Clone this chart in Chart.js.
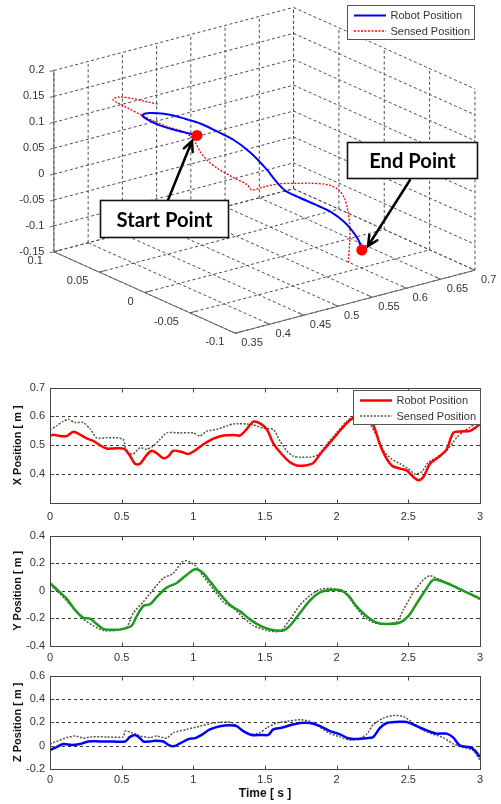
<!DOCTYPE html>
<html>
<head>
<meta charset="utf-8">
<title>Robot trajectory</title>
<script src="https://cdn.jsdelivr.net/npm/chart.js@4.4.1/dist/chart.umd.min.js"></script>
<style>
  html, body { margin: 0; padding: 0; background: #fff; }
  body { position: relative; width: 501px; height: 804px; overflow: hidden; }
  canvas { position: absolute; left: 0; }
</style>
</head>
<body>
<canvas id="traj3d" width="501" height="362" style="top:0"></canvas>
<canvas id="xPlot" width="501" height="148" style="top:376px"></canvas>
<canvas id="yPlot" width="501" height="140" style="top:524px"></canvas>
<canvas id="zPlot" width="501" height="140" style="top:664px"></canvas>
<script>
// ---- 3D path (m) ----
const robotX = [0.457, 0.449, 0.438, 0.424, 0.414, 0.409, 0.412, 0.418, 0.431, 0.446, 0.460, 0.475, 0.489, 0.503, 0.517, 0.527, 0.534, 0.546, 0.559, 0.574, 0.586, 0.594, 0.598, 0.601];
const robotY = [0.023, 0.027, 0.033, 0.040, 0.045, 0.047, 0.046, 0.043, 0.035, 0.028, 0.021, 0.014, 0.007, -0.001, -0.008, -0.013, -0.017, -0.022, -0.030, -0.037, -0.042, -0.047, -0.049, -0.050];
const robotZ = [0.098, 0.102, 0.107, 0.116, 0.126, 0.134, 0.138, 0.139, 0.138, 0.130, 0.121, 0.106, 0.091, 0.068, 0.037, 0.010, -0.005, -0.017, -0.029, -0.044, -0.063, -0.084, -0.098, -0.116];

const sensedX = [0.423, 0.412, 0.400, 0.389, 0.383, 0.387, 0.398, 0.409, 0.420, 0.431, 0.444, 0.451, 0.456, 0.460, 0.466, 0.475, 0.489, 0.501, 0.505, 0.515, 0.528, 0.543, 0.557, 0.572, 0.580, 0.586, 0.588, 0.590, 0.590, 0.589];
const sensedY = [0.041, 0.046, 0.051, 0.057, 0.060, 0.059, 0.053, 0.047, 0.041, 0.035, 0.030, 0.025, 0.023, 0.021, 0.018, 0.014, 0.007, 0.001, -0.001, -0.006, -0.014, -0.021, -0.028, -0.035, -0.040, -0.042, -0.044, -0.045, -0.045, -0.044];
const sensedZ = [0.156, 0.161, 0.167, 0.169, 0.164, 0.158, 0.146, 0.134, 0.123, 0.114, 0.105, 0.096, 0.081, 0.065, 0.050, 0.035, 0.018, 0.005, -0.005, 0.001, 0.009, 0.010, 0.011, 0.008, 0.000, -0.016, -0.037, -0.068, -0.099, -0.141];

const axisXTicks = [0.35, 0.4, 0.45, 0.5, 0.55, 0.6, 0.65, 0.7];
const axisYTicks = [0.1, 0.05, 0, -0.05, -0.1];
const axisZTicks = [0.2, 0.15, 0.1, 0.05, 0, -0.05, -0.1, -0.15];

// ---- position against time ----
const timeTicks = [0, 0.5, 1, 1.5, 2, 2.5, 3];
const xPosTicks = [0.4, 0.5, 0.6, 0.7];
const yPosTicks = [-0.4, -0.2, 0, 0.2, 0.4];
const zPosTicks = [-0.2, 0, 0.2, 0.4, 0.6];

const tXRobot = [0, 0.023, 0.07, 0.116, 0.163, 0.209, 0.256, 0.302, 0.349, 0.395, 0.442, 0.488, 0.523, 0.558, 0.593, 0.628, 0.674, 0.709, 0.744, 0.791, 0.826, 0.86, 0.919, 0.965, 1.023, 1.081, 1.14, 1.209, 1.279, 1.326, 1.372, 1.419, 1.465, 1.512, 1.558, 1.616, 1.674, 1.721, 1.779, 1.837, 1.884, 1.942, 2.0, 2.07, 2.128, 2.17, 2.22, 2.267, 2.302, 2.337, 2.384, 2.442, 2.488, 2.535, 2.57, 2.605, 2.651, 2.709, 2.767, 2.814, 2.872, 2.93, 3.0];
const xRobot = [0.532, 0.537, 0.532, 0.532, 0.547, 0.537, 0.524, 0.515, 0.5, 0.489, 0.489, 0.49, 0.486, 0.464, 0.436, 0.436, 0.466, 0.481, 0.473, 0.455, 0.462, 0.481, 0.477, 0.47, 0.486, 0.507, 0.523, 0.534, 0.536, 0.534, 0.556, 0.582, 0.576, 0.556, 0.507, 0.47, 0.441, 0.43, 0.43, 0.439, 0.469, 0.503, 0.537, 0.577, 0.6, 0.612, 0.605, 0.556, 0.503, 0.464, 0.43, 0.419, 0.413, 0.39, 0.379, 0.39, 0.436, 0.458, 0.486, 0.543, 0.548, 0.55, 0.573];
const tXSensed = [0, 0.047, 0.093, 0.128, 0.174, 0.233, 0.279, 0.326, 0.395, 0.465, 0.512, 0.535, 0.581, 0.628, 0.674, 0.721, 0.767, 0.814, 0.907, 1.0, 1.047, 1.093, 1.163, 1.233, 1.279, 1.372, 1.419, 1.488, 1.558, 1.605, 1.651, 1.698, 1.744, 1.814, 1.872, 1.93, 2.0, 2.07, 2.116, 2.16, 2.2, 2.233, 2.279, 2.326, 2.384, 2.442, 2.5, 2.547, 2.593, 2.64, 2.698, 2.767, 2.837, 2.884, 2.93, 3.0];
const xSensed = [0.553, 0.568, 0.583, 0.59, 0.579, 0.579, 0.557, 0.526, 0.526, 0.526, 0.52, 0.475, 0.47, 0.492, 0.486, 0.498, 0.52, 0.543, 0.543, 0.543, 0.532, 0.549, 0.555, 0.567, 0.574, 0.574, 0.571, 0.559, 0.555, 0.515, 0.481, 0.462, 0.459, 0.459, 0.467, 0.503, 0.543, 0.583, 0.6, 0.615, 0.605, 0.575, 0.532, 0.481, 0.453, 0.436, 0.419, 0.4, 0.408, 0.441, 0.458, 0.481, 0.526, 0.548, 0.562, 0.587];

const tYRobot = [0, 0.047, 0.116, 0.174, 0.233, 0.279, 0.326, 0.372, 0.442, 0.512, 0.57, 0.605, 0.651, 0.698, 0.744, 0.814, 0.884, 0.953, 1.012, 1.058, 1.116, 1.186, 1.256, 1.326, 1.395, 1.465, 1.535, 1.628, 1.674, 1.744, 1.814, 1.884, 1.953, 2.023, 2.081, 2.14, 2.209, 2.279, 2.349, 2.442, 2.5, 2.558, 2.616, 2.674, 2.733, 2.814, 2.907, 3.0];
const yRobot = [0.057, 0.011, -0.057, -0.138, -0.195, -0.202, -0.241, -0.276, -0.283, -0.276, -0.253, -0.184, -0.11, -0.097, -0.046, 0.023, 0.057, 0.115, 0.156, 0.138, 0.069, -0.023, -0.103, -0.149, -0.207, -0.253, -0.28, -0.287, -0.253, -0.161, -0.069, -0.011, 0.005, 0.005, -0.034, -0.115, -0.184, -0.23, -0.241, -0.23, -0.184, -0.092, 0, 0.08, 0.069, 0.034, -0.011, -0.057];
const tYSensed = [0, 0.07, 0.163, 0.233, 0.302, 0.372, 0.465, 0.535, 0.581, 0.651, 0.721, 0.791, 0.86, 0.919, 0.953, 1.012, 1.07, 1.14, 1.209, 1.279, 1.349, 1.419, 1.512, 1.605, 1.674, 1.744, 1.814, 1.884, 1.953, 2.047, 2.116, 2.186, 2.256, 2.326, 2.419, 2.465, 2.535, 2.605, 2.651, 2.721, 2.814, 2.907, 3.0];
const ySensed = [0.046, -0.023, -0.126, -0.207, -0.253, -0.287, -0.287, -0.264, -0.161, -0.08, 0.011, 0.092, 0.126, 0.207, 0.218, 0.184, 0.103, 0.011, -0.08, -0.126, -0.195, -0.253, -0.287, -0.294, -0.207, -0.103, -0.034, 0.011, 0.018, 0, -0.092, -0.184, -0.23, -0.241, -0.225, -0.138, -0.011, 0.08, 0.11, 0.08, 0.039, -0.011, -0.064];

const tZRobot = [0, 0.035, 0.093, 0.151, 0.209, 0.267, 0.349, 0.442, 0.523, 0.558, 0.593, 0.628, 0.651, 0.698, 0.733, 0.791, 0.826, 0.86, 0.907, 0.965, 1.012, 1.058, 1.116, 1.186, 1.256, 1.302, 1.349, 1.407, 1.477, 1.523, 1.558, 1.616, 1.674, 1.744, 1.814, 1.884, 1.953, 2.023, 2.081, 2.151, 2.209, 2.256, 2.302, 2.349, 2.419, 2.488, 2.558, 2.628, 2.698, 2.767, 2.814, 2.86, 2.93, 2.965, 3.0];
const zRobot = [-0.036, -0.019, 0.014, 0.006, 0.014, 0.036, 0.036, 0.036, 0.036, 0.075, 0.092, 0.064, 0.036, 0.036, 0.042, 0.036, 0.006, -0.006, 0.019, 0.056, 0.064, 0.092, 0.139, 0.167, 0.175, 0.167, 0.125, 0.092, 0.092, 0.092, 0.139, 0.153, 0.175, 0.194, 0.194, 0.167, 0.125, 0.097, 0.064, 0.056, 0.064, 0.075, 0.153, 0.194, 0.203, 0.203, 0.167, 0.131, 0.103, 0.103, 0.069, 0, -0.014, -0.042, -0.097];
const tZSensed = [0, 0.058, 0.116, 0.174, 0.233, 0.291, 0.395, 0.512, 0.523, 0.57, 0.628, 0.698, 0.744, 0.814, 0.86, 0.953, 1.047, 1.14, 1.233, 1.279, 1.326, 1.395, 1.465, 1.512, 1.581, 1.651, 1.744, 1.814, 1.884, 1.953, 2.023, 2.093, 2.163, 2.209, 2.256, 2.326, 2.395, 2.465, 2.535, 2.605, 2.674, 2.744, 2.814, 2.884, 2.953, 3.0];
const zSensed = [0.014, 0.042, 0.069, 0.083, 0.064, 0.075, 0.075, 0.075, 0.125, 0.111, 0.083, 0.069, 0.083, 0.064, 0.111, 0.139, 0.167, 0.194, 0.203, 0.194, 0.139, 0.097, 0.111, 0.153, 0.194, 0.208, 0.222, 0.208, 0.158, 0.103, 0.075, 0.047, 0.064, 0.097, 0.181, 0.236, 0.258, 0.25, 0.194, 0.131, 0.097, 0.069, 0.014, -0.014, -0.042, -0.125];

const FONT = '"Liberation Sans", Arial, sans-serif';
const TEXT = '#333';
const SENSED = '#55553f';

// box limits come from the tick lists
const xLo = Math.min(...axisXTicks), xHi = Math.max(...axisXTicks);
const yLo = Math.min(...axisYTicks), yHi = Math.max(...axisYTicks);
const zLo = Math.min(...axisZTicks), zHi = Math.max(...axisZTicks);

// fixed view: where the (xLo, yHi, zLo) corner sits and how long each axis is on screen
const view = { ox: 49.5, oy: 254, xAxis: [245, -65], yAxis: [185.5, 84], zAxis: 187 };

function project(x, y, z) {
    const u = (x - xLo) / (xHi - xLo);
    const v = (yHi - y) / (yHi - yLo);
    const w = (z - zLo) / (zHi - zLo);
    return {
        x: view.ox + view.xAxis[0] * u + view.yAxis[0] * v,
        y: view.oy + view.xAxis[1] * u + view.yAxis[1] * v - view.zAxis * w
    };
}

const path3d = (xs, ys, zs) => xs.map((x, i) => project(x, ys[i], zs[i]));
const last = robotX.length - 1;

function arrow(ctx, x1, y1, x2, y2) {
    const a = Math.atan2(y2 - y1, x2 - x1);
    ctx.beginPath();
    ctx.moveTo(x1, y1);
    ctx.lineTo(x2, y2);
    ctx.moveTo(x2 - 11 * Math.cos(a - 0.45), y2 - 11 * Math.sin(a - 0.45));
    ctx.lineTo(x2, y2);
    ctx.lineTo(x2 - 11 * Math.cos(a + 0.45), y2 - 11 * Math.sin(a + 0.45));
    ctx.stroke();
}

function legendBox(ctx, left, top, w, h, items) {
    ctx.save();
    ctx.fillStyle = '#fff';
    ctx.fillRect(left, top, w, h);
    ctx.strokeStyle = '#555';
    ctx.lineWidth = 1;
    ctx.strokeRect(left, top, w, h);
    ctx.font = '11px ' + FONT;
    ctx.textBaseline = 'middle';
    items.forEach((it, i) => {
        const y = top + 10 + i * 15.5;
        ctx.strokeStyle = it.color;
        ctx.lineWidth = it.width;
        ctx.setLineDash(it.dash || []);
        ctx.beginPath();
        ctx.moveTo(left + 6.5, y);
        ctx.lineTo(left + 38.5, y);
        ctx.stroke();
        ctx.setLineDash([]);
        ctx.fillStyle = TEXT;
        ctx.fillText(it.text, left + 43, y + 0.5);
    });
    ctx.restore();
}

const frame3d = {
    id: 'frame3d',
    beforeDatasetsDraw(chart) {
        const ctx = chart.ctx;
        const sx = chart.scales.x, sy = chart.scales.y;
        const P = (x, y, z) => {
            const p = project(x, y, z);
            return [sx.getPixelForValue(p.x), sy.getPixelForValue(p.y)];
        };
        const seg = (a, b) => { ctx.beginPath(); ctx.moveTo(a[0], a[1]); ctx.lineTo(b[0], b[1]); ctx.stroke(); };

        ctx.save();
        ctx.lineWidth = 1;
        ctx.strokeStyle = '#4d4d4d';
        ctx.setLineDash([3, 2.5]);
        // back wall (y = yHi)
        axisXTicks.forEach(x => seg(P(x, yHi, zLo), P(x, yHi, zHi)));
        axisZTicks.forEach(z => seg(P(xLo, yHi, z), P(xHi, yHi, z)));
        // side wall (x = xHi)
        axisYTicks.forEach(y => seg(P(xHi, y, zLo), P(xHi, y, zHi)));
        axisZTicks.forEach(z => seg(P(xHi, yHi, z), P(xHi, yLo, z)));
        // floor
        axisXTicks.forEach(x => seg(P(x, yHi, zLo), P(x, yLo, zLo)));
        axisYTicks.forEach(y => seg(P(xLo, y, zLo), P(xHi, y, zLo)));

        // solid axes and tick marks
        ctx.setLineDash([]);
        ctx.strokeStyle = '#666';
        seg(P(xLo, yHi, zLo), P(xLo, yHi, zHi));
        seg(P(xLo, yHi, zLo), P(xLo, yLo, zLo));
        seg(P(xLo, yLo, zLo), P(xHi, yLo, zLo));
        axisZTicks.forEach(z => seg(P(xLo, yHi, z), P(xLo - 0.006, yHi, z)));
        axisYTicks.forEach(y => seg(P(xLo, y, zLo), P(xLo + 0.01, y, zLo)));
        axisXTicks.forEach(x => seg(P(x, yLo, zLo), P(x, yLo + 0.006, zLo)));

        // tick labels
        ctx.fillStyle = TEXT;
        ctx.font = '11px ' + FONT;
        ctx.textBaseline = 'middle';
        ctx.textAlign = 'right';
        axisZTicks.forEach(z => { const p = P(xLo, yHi, z); ctx.fillText(String(z), p[0] - 9.5, p[1]); });
        axisYTicks.forEach(y => { const p = P(xLo, y, zLo); ctx.fillText(String(y), p[0] - 11, p[1] + 9); });
        ctx.textAlign = 'left';
        axisXTicks.forEach(x => { const p = P(x, yLo, zLo); ctx.fillText(String(x), p[0] + 6, p[1] + 10); });
        ctx.restore();
    },
    afterDatasetsDraw(chart) {
        const ctx = chart.ctx;
        legendBox(ctx, 347.5, 5.5, 127, 34, [
            { text: 'Robot Position', color: '#0000ff', width: 2 },
            { text: 'Sensed Position', color: '#ff0000', width: 1.3, dash: [2, 1.5] }
        ]);

        ctx.save();
        ctx.strokeStyle = '#000';
        ctx.lineWidth = 2.5;
        ctx.lineCap = 'round';
        arrow(ctx, 168, 200, 192, 141);
        arrow(ctx, 410, 180, 368, 246);

        // callout boxes
        ctx.font = '700 17px Lato, "Open Sans", sans-serif';
        const size = 17 * 96 / ctx.measureText('Start Point').width;
        ctx.font = '700 ' + size.toFixed(1) + 'px Lato, "Open Sans", sans-serif';
        ctx.textAlign = 'center';
        ctx.textBaseline = 'middle';
        [['Start Point', 100.5, 200.5, 128, 37], ['End Point', 347.5, 142.5, 130, 36]].forEach(([t, x, y, w, h]) => {
            ctx.fillStyle = '#fff';
            ctx.fillRect(x, y, w, h);
            ctx.lineWidth = 1.6;
            ctx.strokeStyle = '#111';
            ctx.strokeRect(x, y, w, h);
            ctx.fillStyle = '#000';
            ctx.fillText(t, x + w / 2, y + h / 2 + 1);
        });
        ctx.restore();
    }
};

new Chart(document.getElementById('traj3d'), {
    type: 'scatter',
    data: {
        datasets: [
            {
                label: 'Start / End',
                data: [project(robotX[0], robotY[0], robotZ[0]), project(robotX[last], robotY[last], robotZ[last])],
                pointRadius: 5.5,
                pointBackgroundColor: '#ff0000',
                pointBorderWidth: 0,
                showLine: false,
                clip: false
            },
            {
                label: 'Robot Position',
                data: path3d(robotX, robotY, robotZ),
                borderColor: '#0000ff',
                borderWidth: 2,
                pointRadius: 0,
                showLine: true,
                tension: 0.3,
                clip: false
            },
            {
                label: 'Sensed Position',
                data: path3d(sensedX, sensedY, sensedZ),
                borderColor: '#ff0000',
                borderWidth: 1.3,
                borderDash: [2, 1.5],
                pointRadius: 0,
                showLine: true,
                tension: 0.3,
                clip: false
            }
        ]
    },
    options: {
        responsive: false,
        animation: false,
        events: [],
        layout: { padding: 0 },
        plugins: { legend: { display: false }, tooltip: { enabled: false } },
        scales: {
            x: { type: 'linear', min: 0, max: 501, display: false },
            y: { type: 'linear', min: 0, max: 362, reverse: true, display: false }
        }
    },
    plugins: [frame3d]
});

// ---- the three time plots ----
const pts = (t, v) => t.map((x, i) => ({ x: x, y: v[i] }));

function framePlugin(s) {
    return {
        id: 'frame',
        beforeDatasetsDraw(chart) {
            const { ctx, chartArea: a, scales: { y } } = chart;
            ctx.save();
            ctx.strokeStyle = '#3a3a3a';
            ctx.lineWidth = 1;
            ctx.setLineDash([3, 3]);
            s.yTicks.forEach(v => {
                if (v <= s.min || v >= s.max) return;
                const py = Math.round(y.getPixelForValue(v)) + 0.5;
                ctx.beginPath();
                ctx.moveTo(a.left, py);
                ctx.lineTo(a.right, py);
                ctx.stroke();
            });
            ctx.restore();
        },
        afterDatasetsDraw(chart) {
            const { ctx, chartArea: a, scales: { x, y } } = chart;
            const L = Math.round(a.left) + 0.5, T = Math.round(a.top) + 0.5;
            const R = Math.round(a.right) + 0.5, B = Math.round(a.bottom) + 0.5;
            ctx.save();
            ctx.strokeStyle = '#444';
            ctx.lineWidth = 1;
            ctx.strokeRect(L, T, R - L, B - T);
            ctx.beginPath();
            timeTicks.forEach(v => {
                const px = Math.round(x.getPixelForValue(v)) + 0.5;
                ctx.moveTo(px, B); ctx.lineTo(px, B - 4);
                ctx.moveTo(px, T); ctx.lineTo(px, T + 4);
            });
            s.yTicks.forEach(v => {
                const py = Math.round(y.getPixelForValue(v)) + 0.5;
                ctx.moveTo(L, py); ctx.lineTo(L + 4, py);
                ctx.moveTo(R, py); ctx.lineTo(R - 4, py);
            });
            ctx.stroke();

            ctx.fillStyle = '#111';
            ctx.font = 'bold 11px ' + FONT;
            ctx.textAlign = 'center';
            ctx.textBaseline = 'middle';
            ctx.save();
            ctx.translate(18, (a.top + a.bottom) / 2);
            ctx.rotate(-Math.PI / 2);
            ctx.fillText(s.label, 0, 0);
            ctx.restore();
            if (s.timeTitle) {
                ctx.font = 'bold 12px ' + FONT;
                ctx.fillText('Time [ s ]', (a.left + a.right) / 2, a.bottom + 25);
            }
            ctx.restore();

            if (s.legend) {
                legendBox(ctx, Math.round(a.right) - 126.5, Math.round(a.top) + 2.5, 127, 34, [
                    { text: 'Robot Position', color: s.color, width: 2.5 },
                    { text: 'Sensed Position', color: SENSED, width: 1.5, dash: [2, 1.5] }
                ]);
            }
        }
    };
}

function timePlot(id, s) {
    return new Chart(document.getElementById(id), {
        type: 'line',
        data: {
            datasets: [
                {
                    label: 'Robot Position',
                    data: pts(s.tRobot, s.robot),
                    borderColor: s.color,
                    borderWidth: 2.5,
                    pointRadius: 0,
                    tension: 0.3
                },
                {
                    label: 'Sensed Position',
                    data: pts(s.tSensed, s.sensed),
                    borderColor: SENSED,
                    borderWidth: 1.5,
                    borderDash: [2, 1.5],
                    pointRadius: 0,
                    tension: 0.2
                }
            ]
        },
        options: {
            responsive: false,
            animation: false,
            events: [],
            layout: { padding: { top: s.padTop, right: 21, left: 0, bottom: 0 } },
            plugins: { legend: { display: false }, tooltip: { enabled: false } },
            scales: {
                x: {
                    type: 'linear', min: 0, max: 3,
                    afterBuildTicks: sc => { sc.ticks = timeTicks.map(v => ({ value: v })); },
                    afterFit: sc => { sc.height = s.axisH; },
                    grid: { display: false, drawTicks: false },
                    border: { display: false },
                    ticks: { font: { family: FONT, size: 11 }, color: TEXT, padding: s.labelPad, maxRotation: 0, autoSkip: false, callback: v => String(v) }
                },
                y: {
                    type: 'linear', min: s.min, max: s.max,
                    afterBuildTicks: sc => { sc.ticks = s.yTicks.map(v => ({ value: v })); },
                    afterFit: sc => { sc.width = 50; },
                    grid: { display: false, drawTicks: false },
                    border: { display: false },
                    ticks: { font: { family: FONT, size: 11 }, color: TEXT, padding: 5, autoSkip: false, callback: v => String(v) }
                }
            }
        },
        plugins: [framePlugin(s)]
    });
}

timePlot('xPlot', {
    label: 'X Position [ m ]', min: 0.3, max: 0.7, yTicks: xPosTicks, color: '#ff0000',
    tRobot: tXRobot, robot: xRobot, tSensed: tXSensed, sensed: xSensed,
    padTop: 10, axisH: 21, labelPad: 7, legend: true
});
timePlot('yPlot', {
    label: 'Y Position [ m ]', min: -0.4, max: 0.4, yTicks: yPosTicks, color: '#1d9a1d',
    tRobot: tYRobot, robot: yRobot, tSensed: tYSensed, sensed: ySensed,
    padTop: 6, axisH: 18, labelPad: 5
});
timePlot('zPlot', {
    label: 'Z Position [ m ]', min: -0.2, max: 0.6, yTicks: zPosTicks, color: '#0000ff',
    tRobot: tZRobot, robot: zRobot, tSensed: tZSensed, sensed: zSensed,
    padTop: 9, axisH: 35, labelPad: 4, timeTitle: true
});
</script>
</body>
</html>
